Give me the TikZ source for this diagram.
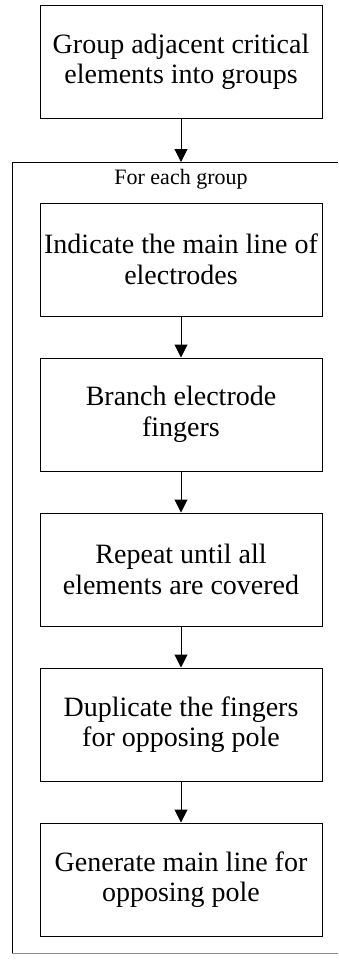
\documentclass[tikz,border=0pt]{standalone}
\usepackage{fontspec}
\setmainfont{Liberation Serif}
\usetikzlibrary{arrows.meta}
\begin{document}
\begin{tikzpicture}[x=1pt,y=-1pt,
  stepbox/.style={draw,line width=1pt,minimum width=282pt,minimum height=113pt,
    inner sep=0pt,align=center,font=\fontsize{28}{30.5}\selectfont},
  flow/.style={line width=1pt,-{Triangle[width=13pt,length=13pt]}},
  frame/.style={line width=1pt}]
  \useasboundingbox (0,0) rectangle (338,964);
  % first step, outside the loop
  \node[stepbox] (g) at (181,62) {Group adjacent critical\\elements into groups};
  % loop frame (open to the right)
  \coordinate (ftl) at (12,162);
  \coordinate (ftr) at (338,162);
  \coordinate (fbl) at (12,953);
  \coordinate (fbr) at (338,953);
  \draw[frame] (ftr) -- (ftl) -- (fbl);
  \draw[line width=0.8pt,black!45] (fbl) -- (fbr);
  \node[font=\fontsize{22}{24}\selectfont] (lbl) at (181,179) {For each group};
  % loop body
  \node[stepbox] (s1) at (181,259.5) {Indicate the main line of\\electrodes};
  \node[stepbox] (s2) at (181,414.5) {Branch electrode\\fingers};
  \node[stepbox] (s3) at (181,569.5) {Repeat until all\\elements are covered};
  \node[stepbox] (s4) at (181,724.5) {Duplicate the fingers\\for opposing pole};
  \node[stepbox] (s5) at (181,879.5) {Generate main line for\\opposing pole};
  \draw[flow] (g) -- (g|-ftl);
  \draw[flow] (s1) -- (s2);
  \draw[flow] (s2) -- (s3);
  \draw[flow] (s3) -- (s4);
  \draw[flow] (s4) -- (s5);
\end{tikzpicture}
\end{document}
